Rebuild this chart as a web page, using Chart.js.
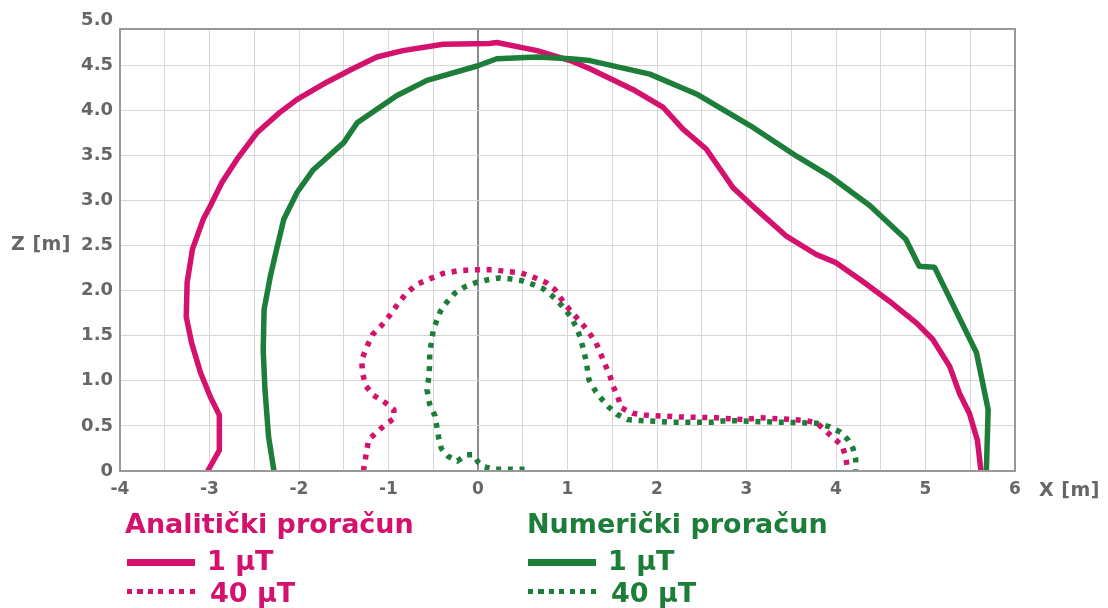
<!DOCTYPE html>
<html>
<head>
<meta charset="utf-8">
<script src="https://cdn.jsdelivr.net/npm/chart.js@4"></script>
<style>
  html, body { margin: 0; padding: 0; background: #fff; }
  #wrap { position: relative; width: 1108px; height: 608px; }
  .lbl { position: absolute; font-family: 'DejaVu Sans', sans-serif; font-weight: bold; color: #666; font-size: 19px; letter-spacing: 0.5px; white-space: nowrap; }
  .leg { position: absolute; font-family: 'DejaVu Sans', sans-serif; font-weight: bold; font-size: 27px; line-height: 32px; white-space: nowrap; }
  .pink { color: #d5116e; }
  .green { color: #1d7e3a; }
  .solid { position: absolute; width: 68px; height: 7px; }
  .dots { position: absolute; width: 73px; height: 5px; }
</style>
</head>
<body>
<div id="wrap">
  <canvas id="chart" width="1108" height="608"></canvas>
  <div class="lbl" style="left:11px; top:232px;">Z [m]</div>
  <div class="lbl" style="left:1039px; top:478px;">X [m]</div>

  <div class="leg pink" style="left:125px; top:508px;">Analitički proračun</div>
  <div class="solid" style="left:127px; top:559px; background:#d5116e"></div>
  <div class="leg pink" style="left:207px; top:545px;">1 µT</div>
  <div class="dots" style="left:127px; top:589px; background:repeating-linear-gradient(90deg,#d5116e 0 5px,transparent 5px 10.5px)"></div>
  <div class="leg pink" style="left:210px; top:577px;">40 µT</div>

  <div class="leg green" style="left:527px; top:508px;">Numerički proračun</div>
  <div class="solid" style="left:528px; top:559px; background:#1d7e3a"></div>
  <div class="leg green" style="left:608px; top:545px;">1 µT</div>
  <div class="dots" style="left:528px; top:589px; background:repeating-linear-gradient(90deg,#1d7e3a 0 5px,transparent 5px 10.5px)"></div>
  <div class="leg green" style="left:611px; top:577px;">40 µT</div>
</div>
<script>
// Analitički proračun, 1 µT
var ana1X = [-3.02, -2.89, -2.89, -2.99, -3.10, -3.20, -3.26, -3.25, -3.19, -3.07, -2.99, -2.86, -2.69, -2.47, -2.22, -2.02, -1.69, -1.40, -1.13, -0.84, -0.39, 0.13, 0.21, 0.66, 1.03, 1.25, 1.73, 2.07, 2.29, 2.55, 2.85, 3.11, 3.45, 3.78, 4.00, 4.30, 4.60, 4.90, 5.08, 5.27, 5.38, 5.49, 5.58, 5.62];
var ana1Z = [0, 0.23, 0.62, 0.82, 1.09, 1.42, 1.71, 2.09, 2.46, 2.79, 2.94, 3.20, 3.46, 3.75, 3.97, 4.12, 4.31, 4.46, 4.59, 4.66, 4.73, 4.74, 4.75, 4.66, 4.55, 4.46, 4.23, 4.03, 3.79, 3.57, 3.14, 2.90, 2.60, 2.40, 2.31, 2.10, 1.88, 1.64, 1.46, 1.16, 0.86, 0.64, 0.34, 0];

// Analitički proračun, 40 µT
var ana40X = [-1.28, -1.26, -1.24, -1.22, -1.12, -1.03, -0.94, -0.94, -1.04, -1.17, -1.25, -1.29, -1.30, -1.25, -1.18, -1.09, -0.99, -0.89, -0.80, -0.68, -0.54, -0.39, -0.22, -0.07, 0.08, 0.19, 0.32, 0.47, 0.64, 0.76, 0.86, 0.95, 1.03, 1.14, 1.23, 1.32, 1.42, 1.47, 1.51, 1.56, 1.60, 1.73, 1.86, 2.25, 2.66, 2.98, 3.15, 3.52, 3.66, 3.79, 3.89, 3.98, 4.07, 4.11, 4.13];
var ana40Z = [0, 0.12, 0.25, 0.35, 0.44, 0.52, 0.58, 0.68, 0.76, 0.84, 0.94, 1.08, 1.23, 1.36, 1.51, 1.60, 1.72, 1.86, 1.97, 2.07, 2.13, 2.19, 2.22, 2.23, 2.23, 2.23, 2.21, 2.20, 2.14, 2.09, 2.01, 1.88, 1.78, 1.66, 1.55, 1.42, 1.18, 1.07, 0.94, 0.83, 0.70, 0.64, 0.62, 0.60, 0.59, 0.57, 0.59, 0.57, 0.56, 0.53, 0.44, 0.36, 0.28, 0.15, 0];

// Numerički proračun, 1 µT
var num1X = [-2.28, -2.34, -2.38, -2.40, -2.39, -2.32, -2.25, -2.17, -2.02, -1.84, -1.50, -1.35, -0.91, -0.57, -0.01, 0.21, 0.66, 1.03, 1.25, 1.92, 2.44, 3.04, 3.56, 3.93, 4.38, 4.78, 4.93, 5.10, 5.57, 5.70, 5.68];
var num1Z = [0, 0.38, 0.90, 1.34, 1.79, 2.16, 2.46, 2.79, 3.09, 3.34, 3.64, 3.86, 4.16, 4.33, 4.49, 4.57, 4.59, 4.57, 4.55, 4.40, 4.18, 3.83, 3.49, 3.27, 2.94, 2.57, 2.27, 2.26, 1.31, 0.68, 0];

// Numerički proračun, 40 µT
var num40X = [0.52, 0.39, 0.28, 0.17, 0.06, 0.00, -0.05, -0.13, -0.23, -0.33, -0.41, -0.44, -0.46, -0.48, -0.54, -0.57, -0.55, -0.54, -0.54, -0.52, -0.50, -0.46, -0.42, -0.35, -0.26, -0.15, -0.02, 0.11, 0.24, 0.36, 0.49, 0.61, 0.73, 0.83, 0.93, 1.03, 1.09, 1.14, 1.18, 1.21, 1.24, 1.31, 1.38, 1.46, 1.55, 1.67, 1.81, 2.18, 2.61, 2.78, 3.05, 3.43, 3.78, 3.93, 4.05, 4.14, 4.19, 4.22, 4.22];
var num40Z = [0.02, 0.02, 0.02, 0.02, 0.05, 0.10, 0.18, 0.18, 0.11, 0.16, 0.25, 0.37, 0.49, 0.61, 0.74, 0.90, 1.04, 1.18, 1.31, 1.43, 1.56, 1.67, 1.77, 1.87, 1.97, 2.04, 2.09, 2.12, 2.14, 2.13, 2.11, 2.07, 2.02, 1.94, 1.84, 1.72, 1.61, 1.49, 1.34, 1.21, 1.01, 0.89, 0.80, 0.71, 0.63, 0.57, 0.56, 0.54, 0.54, 0.56, 0.55, 0.54, 0.53, 0.49, 0.43, 0.34, 0.25, 0.13, 0];

var yTicks = [0, 0.5, 1.0, 1.5, 2.0, 2.5, 3.0, 3.5, 4.0, 4.5, 5.0];

var PINK = '#d5116e';
var GREEN = '#1d7e3a';

function pts(xs, zs) {
    return xs.map(function (x, i) { return { x: x, y: zs[i] }; });
}

var boxPlugin = {
    id: 'box',
    afterDraw: function (chart) {
        var a = chart.chartArea, c = chart.ctx;
        c.save();
        c.strokeStyle = '#999';
        c.lineWidth = 2;
        c.strokeRect(a.left, a.top, a.right - a.left, a.bottom - a.top);
        c.restore();
    }
};

var ctx = document.getElementById('chart').getContext('2d');
var chart = new Chart(ctx, {
    type: 'scatter',
    data: {
        datasets: [
            { data: pts(ana40X, ana40Z), borderColor: PINK, borderWidth: 5.5, borderDash: [5, 6.7] },
            { data: pts(num40X, num40Z), borderColor: GREEN, borderWidth: 5.5, borderDash: [5, 6.7] },
            { data: pts(num1X, num1Z), borderColor: GREEN, borderWidth: 5.5 },
            { data: pts(ana1X, ana1Z), borderColor: PINK, borderWidth: 5.5 }
        ]
    },
    options: {
        responsive: false,
        animation: false,
        showLine: true,
        elements: { point: { radius: 0 }, line: { tension: 0, borderJoinStyle: 'round' } },
        layout: { padding: { left: 0, right: 93, top: 29, bottom: 0 } },
        plugins: { legend: { display: false }, tooltip: { enabled: false } },
        scales: {
            x: {
                type: 'linear', min: -4, max: 6,
                afterFit: function (s) { s.height = 137; },
                ticks: {
                    stepSize: 0.5, autoSkip: false, maxRotation: 0, padding: 8,
                    color: '#666',
                    font: { family: "'DejaVu Sans'", weight: 'bold', size: 17 },
                    callback: function (v) { return Number.isInteger(v) ? String(v) : ''; }
                },
                grid: {
                    drawTicks: false,
                    color: function (c) { return c.tick && c.tick.value === 0 ? '#8c8c8c' : '#d6d6d6'; },
                    lineWidth: function (c) { return c.tick && c.tick.value === 0 ? 2 : 1; }
                },
                border: { color: '#999', width: 2 }
            },
            y: {
                type: 'linear', min: 0, max: 4.9,
                afterFit: function (s) { s.width = 120; },
                afterBuildTicks: function (s) { s.ticks = yTicks.map(function (v) { return { value: v }; }); },
                ticks: {
                    padding: 7,
                    color: '#666',
                    font: { family: "'DejaVu Sans'", weight: 'bold', size: 18 },
                    callback: function (v) { return v === 0 ? '0' : v.toFixed(1); }
                },
                grid: {
                    drawTicks: false,
                    color: function (c) { return c.tick && c.tick.value > 4.9 ? 'rgba(0,0,0,0)' : '#d6d6d6'; }
                },
                border: { color: '#999', width: 2 }
            }
        }
    },
    plugins: [boxPlugin]
});
</script>
</body>
</html>
